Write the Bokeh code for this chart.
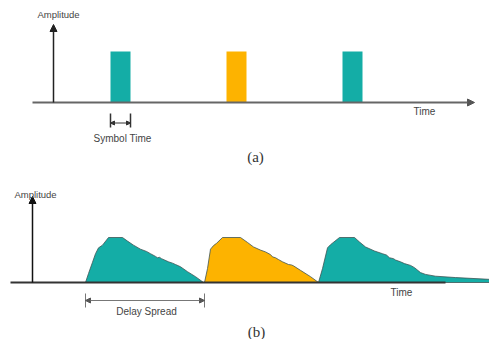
from bokeh.plotting import figure
from bokeh.layouts import column
from bokeh.models import Arrow, NormalHead, Label, Range1d
from bokeh.embed import file_html
from bokeh.resources import INLINE

# ---------------- data ----------------
# (a) transmitted symbols: start time, duration, amplitude
symbol_start = [110, 226, 342]
symbol_duration = 20
symbol_amplitude = [1.0, 1.0, 1.0]
symbol_is_highlight = [False, True, False]

# (b) received pulses after multipath channel (time, relative amplitude)
pulse1_t = [85, 88, 92, 95, 98, 102, 108, 122, 127, 133, 140, 146, 150, 155, 157, 159, 161, 168, 172, 175, 180, 187, 195, 203]
pulse1_a = [0.0, 0.2, 0.45, 0.64, 0.77, 0.83, 1.0, 1.0, 0.92, 0.83, 0.74, 0.69, 0.64, 0.58, 0.55, 0.56, 0.53, 0.46, 0.43, 0.40, 0.35, 0.24, 0.13, 0.0]

pulse2_t = [204, 207, 210, 213, 216, 222, 240, 247, 253, 260, 265, 270, 272, 275, 278, 282, 288, 291, 293, 300, 310, 318]
pulse2_a = [0.0, 0.31, 0.74, 0.82, 0.87, 1.0, 1.0, 0.89, 0.79, 0.72, 0.68, 0.62, 0.57, 0.55, 0.51, 0.46, 0.40, 0.39, 0.37, 0.27, 0.13, 0.0]

pulse3_t = [318, 322, 327, 330, 339, 354, 359, 365, 374, 382, 386, 389, 393, 395, 400, 404, 410, 414, 420, 425, 435, 455, 489]
pulse3_a = [0.0, 0.31, 0.77, 0.84, 1.0, 1.0, 0.90, 0.79, 0.70, 0.64, 0.61, 0.55, 0.53, 0.50, 0.46, 0.42, 0.38, 0.33, 0.22, 0.18, 0.14, 0.11, 0.07]

delay_spread = [85, 204]

TEAL = "#14ADA6"
ORANGE = "#FDB300"
TXT = "#444444"

# ---------------- helpers (pixel rows -> data) ----------------
def yt(p):  # top panel: baseline row 102, unit amplitude = 51 px
    return (102 - p) / 51.0

def yb(P):  # bottom panel: baseline row 282, unit amplitude = 45 px
    return (282 - P) / 45.0


def make_fig(h, y0, y1):
    f = figure(width=489, height=h, x_range=Range1d(0, 489), y_range=Range1d(y0, y1),
               output_backend="svg", toolbar_location=None, min_border=0,
               x_axis_location=None, y_axis_location=None,
               outline_line_color=None, background_fill_color="white",
               border_fill_color="white")
    f.grid.grid_line_color = None
    return f


def label(f, x, y, text, size="10px", font="Liberation Sans", color=TXT):
    f.add_layout(Label(x=x, y=y, text=text, text_align="center", text_baseline="middle",
                       text_font_size=size, text_font=font, text_color=color))

# ---------------- panel (a) ----------------
p1 = make_fig(170, yt(170), yt(0))
colors = [ORANGE if h else TEAL for h in symbol_is_highlight]
p1.quad(left=symbol_start, right=[s + symbol_duration for s in symbol_start],
        bottom=0, top=symbol_amplitude, fill_color=colors, line_color=None)

# time axis
p1.add_layout(Arrow(end=NormalHead(size=7, fill_color="#555555", line_color="#555555"),
                    x_start=32, y_start=0, x_end=474, y_end=0,
                    line_color="#666666", line_width=2))
# amplitude axis
p1.add_layout(Arrow(end=NormalHead(size=7, fill_color="#222222", line_color="#222222"),
                    x_start=53, y_start=0, x_end=53, y_end=yt(24),
                    line_color="#222222", line_width=1.5))

# symbol time marker
s0 = symbol_start[0]
s1 = symbol_start[0] + symbol_duration
p1.segment(x0=[s0, s1], y0=[yt(113)] * 2, x1=[s0, s1], y1=[yt(127)] * 2,
           line_color="#333333", line_width=1.5)
p1.add_layout(Arrow(start=NormalHead(size=4, fill_color="#333333", line_color="#333333"),
                    end=NormalHead(size=4, fill_color="#333333", line_color="#333333"),
                    x_start=s0, y_start=yt(122.5), x_end=s1, y_end=yt(122.5),
                    line_color="#333333", line_width=1))

label(p1, 58, yt(14), "Amplitude", size="9.5px")
label(p1, 424, yt(111), "Time")
label(p1, 122, yt(138), "Symbol Time")
label(p1, 255, yt(156), "(a)", size="15px", font="Liberation Serif", color="#333333")

# ---------------- panel (b) ----------------
p2 = make_fig(169, yb(339), yb(170))
OUT = "#3f5555"
for t, a, c in [(pulse1_t, pulse1_a, TEAL), (pulse2_t, pulse2_a, ORANGE), (pulse3_t, pulse3_a, TEAL)]:
    xs = list(t) + [t[-1], t[0]]
    ys = list(a) + [0.0, 0.0]
    p2.patch(xs, ys, fill_color=c, line_color=OUT, line_width=0.8)

p2.segment(x0=[10], y0=[0], x1=[445], y1=[0], line_color="#333333", line_width=2)
p2.add_layout(Arrow(end=NormalHead(size=7, fill_color="#111111", line_color="#111111"),
                    x_start=32, y_start=0, x_end=32, y_end=yb(196),
                    line_color="#111111", line_width=1.5))

d0, d1 = delay_spread
p2.segment(x0=[d0, d1], y0=[yb(293)] * 2, x1=[d0, d1], y1=[yb(307)] * 2,
           line_color="#777777", line_width=1)
p2.add_layout(Arrow(start=NormalHead(size=5, fill_color="#555555", line_color="#555555"),
                    end=NormalHead(size=5, fill_color="#555555", line_color="#555555"),
                    x_start=d0, y_start=yb(300), x_end=d1, y_end=yb(300),
                    line_color="#777777", line_width=1))

label(p2, 35, yb(194), "Amplitude", size="9.5px")
label(p2, 401, yb(292), "Time")
label(p2, 146, yb(311), "Delay Spread")
label(p2, 256, yb(331.5), "(b)", size="15px", font="Liberation Serif", color="#333333")

layout = column(p1, p2, spacing=0)
open("out.html", "w").write(file_html(layout, INLINE))
